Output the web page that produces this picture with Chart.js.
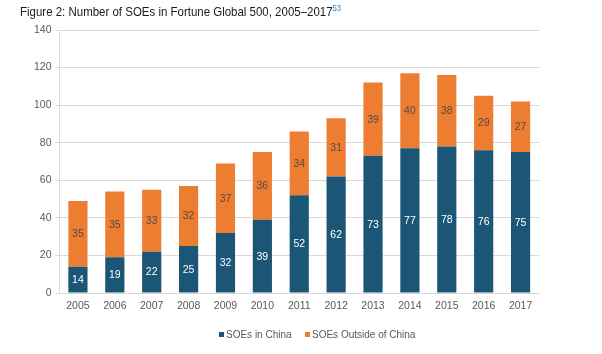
<!DOCTYPE html>
<html>
<head>
<meta charset="utf-8">
<script src="https://cdn.jsdelivr.net/npm/chart.js@4.4.1/dist/chart.umd.min.js"></script>
<style>
  html, body { margin: 0; padding: 0; background: #ffffff; }
  #wrap { position: relative; width: 602px; height: 354px; overflow: hidden; }
  #title { position: absolute; left: 20px; top: 4px; font-family: "Liberation Sans", Arial, sans-serif; font-size: 13.5px; color: #1a1a1a; white-space: nowrap; line-height: 16px; transform: scaleX(0.85); transform-origin: 0 0; }
  #title sup { font-size: 9px; color: #3a7ebf; vertical-align: 5px; line-height: 0; }
  #chartBox { position: absolute; left: 0; top: 0; width: 602px; height: 354px; }
</style>
</head>
<body>
<div id="wrap">
  <div id="chartBox"><canvas id="c" width="602" height="354"></canvas></div>
  <div id="title">Figure 2: Number of SOEs in Fortune Global 500, 2005–2017<sup>53</sup></div>
</div>
<script>
const years = ["2005","2006","2007","2008","2009","2010","2011","2012","2013","2014","2015","2016","2017"];
const soesInChina = [14, 19, 22, 25, 32, 39, 52, 62, 73, 77, 78, 76, 75];
const soesOutsideChina = [35, 35, 33, 32, 37, 36, 34, 31, 39, 40, 38, 29, 27];
const seriesNames = ["SOEs in China", "SOEs Outside of China"];
const yTicks = [0, 20, 40, 60, 80, 100, 120, 140];

const BLUE = "#1b5677";
const ORANGE = "#ed7d31";
const FONT = '"Liberation Sans", Arial, sans-serif';

const valueLabels = {
  id: "valueLabels",
  afterDatasetsDraw(chart) {
    const ctx = chart.ctx;
    ctx.save();
    ctx.font = "10.5px " + FONT;
    ctx.textAlign = "center";
    ctx.textBaseline = "middle";
    chart.data.datasets.forEach((ds, i) => {
      const meta = chart.getDatasetMeta(i);
      meta.data.forEach((bar, j) => {
        const p = bar.getProps(["x", "y", "base"], true);
        ctx.fillStyle = i === 0 ? "#ffffff" : "#5a4a40";
        ctx.fillText(String(ds.data[j]), p.x, (p.y + p.base) / 2 + 0.5);
      });
    });
    ctx.restore();
  }
};

const customLegend = {
  id: "customLegend",
  afterDraw(chart) {
    const ctx = chart.ctx;
    ctx.save();
    ctx.font = "10px " + FONT;
    ctx.textBaseline = "middle";
    const y = 335;
    const items = [
      { x: 219, color: BLUE, text: seriesNames[0] },
      { x: 305, color: ORANGE, text: seriesNames[1] }
    ];
    items.forEach(it => {
      ctx.fillStyle = it.color;
      ctx.fillRect(it.x, y - 3, 5, 5);
      ctx.fillStyle = "#595959";
      ctx.fillText(it.text, it.x + 7, y);
    });
    ctx.restore();
  }
};

new Chart(document.getElementById("c"), {
  type: "bar",
  data: {
    labels: years,
    datasets: [
      { label: seriesNames[0], data: soesInChina, backgroundColor: BLUE, barPercentage: 0.52, categoryPercentage: 1.0 },
      { label: seriesNames[1], data: soesOutsideChina, backgroundColor: ORANGE, barPercentage: 0.52, categoryPercentage: 1.0 }
    ]
  },
  options: {
    responsive: false,
    animation: false,
    layout: { padding: { left: 0, right: 63, top: 30, bottom: 36 } },
    plugins: { legend: { display: false }, tooltip: { enabled: false }, title: { display: false } },
    scales: {
      x: {
        stacked: true,
        grid: { display: true, drawOnChartArea: false, tickLength: 0 },
        border: { display: true, color: "#d9d9d9", width: 1 },
        ticks: { color: "#595959", font: { family: FONT, size: 10.5 }, padding: 7, maxRotation: 0 },
        afterFit(s) { s.height = 25; }
      },
      y: {
        stacked: true,
        min: 0, max: 140,
        afterBuildTicks(s) { s.ticks = yTicks.map(v => ({ value: v })); },
        grid: { color: "#d9d9d9", lineWidth: 1, tickLength: 4 },
        border: { display: true, color: "#d9d9d9", width: 1 },
        ticks: { color: "#595959", font: { family: FONT, size: 10.5 }, padding: 4 },
        afterFit(s) { s.width = 59.5; }
      }
    }
  },
  plugins: [valueLabels, customLegend]
});
</script>
</body>
</html>
